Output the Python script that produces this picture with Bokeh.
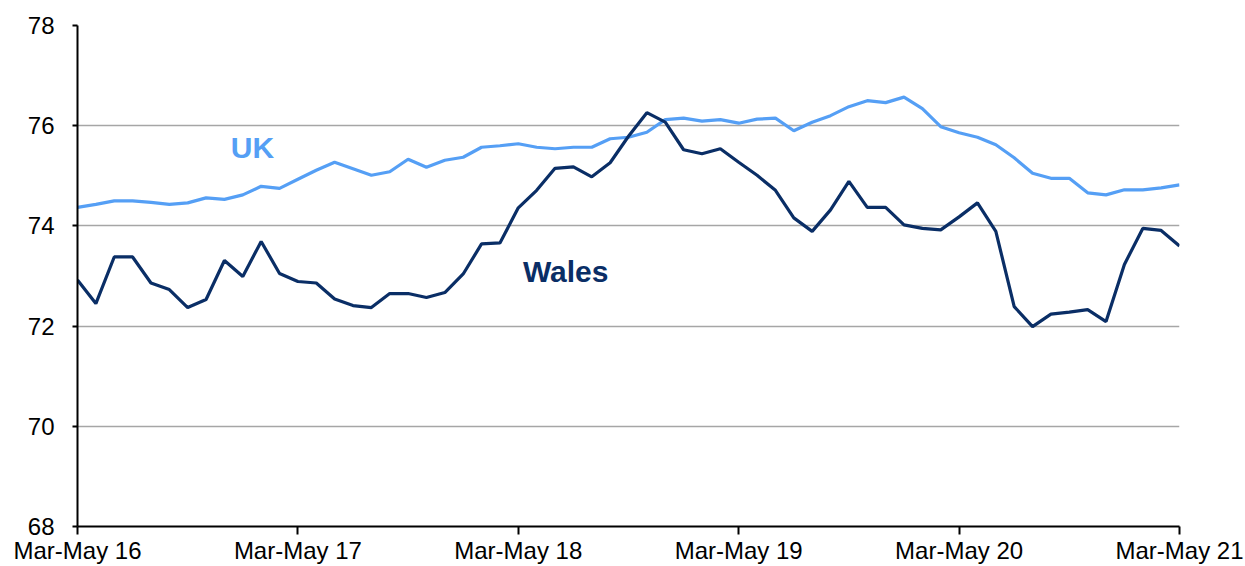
from bokeh.plotting import figure
from bokeh.models import FixedTicker, Range1d
from bokeh.core.properties import value
from bokeh.embed import file_html
from bokeh.resources import INLINE

# ---- data ----
tick_labels = ["Mar-May 16", "Mar-May 17", "Mar-May 18", "Mar-May 19", "Mar-May 20", "Mar-May 21"]
uk = [74.37, 74.43, 74.50, 74.50, 74.47, 74.43, 74.46, 74.56, 74.53, 74.62,
      74.79, 74.75, 74.93, 75.11, 75.27, 75.14, 75.01, 75.08, 75.33, 75.17,
      75.31, 75.37, 75.57, 75.60, 75.64, 75.57, 75.54, 75.57, 75.57, 75.74,
      75.77, 75.87, 76.12, 76.15, 76.09, 76.12, 76.05, 76.13, 76.15, 75.90,
      76.07, 76.20, 76.38, 76.50, 76.46, 76.57, 76.34, 75.98, 75.86, 75.77,
      75.62, 75.36, 75.05, 74.95, 74.95, 74.66, 74.62, 74.72, 74.72, 74.76,
      74.82]
wales = [72.92, 72.45, 73.38, 73.38, 72.86, 72.73, 72.37, 72.53, 73.31, 72.99,
         73.69, 73.05, 72.89, 72.86, 72.54, 72.41, 72.37, 72.65, 72.65, 72.57,
         72.67, 73.04, 73.64, 73.66, 74.36, 74.71, 75.15, 75.18, 74.98, 75.26,
         75.79, 76.26, 76.07, 75.52, 75.44, 75.54, 75.27, 75.01, 74.71, 74.16,
         73.89, 74.32, 74.89, 74.37, 74.37, 74.02, 73.95, 73.92, 74.18, 74.46,
         73.89, 72.39, 71.99, 72.24, 72.28, 72.33, 72.09, 73.23, 73.95, 73.91,
         73.60]
series_names = ["UK", "Wales"]

UK_COLOR = "#559FF5"
WALES_COLOR = "#0A2E66"
FONT = "Liberation Sans"

months = list(range(len(uk)))
tick_pos = [12 * i for i in range(len(tick_labels))]

p = figure(width=1244, height=566, output_backend="svg", toolbar_location=None,
           x_range=Range1d(0, 60), y_range=Range1d(68, 78),
           min_border_left=77, min_border_right=65, min_border_top=25, min_border_bottom=10)
p.outline_line_color = None
p.background_fill_color = "white"

p.line(months, uk, line_color=UK_COLOR, line_width=3.2)
p.line(months, wales, line_color=WALES_COLOR, line_width=3.2)

p.text(x=[8.35], y=[75.57], text=[series_names[0]], text_color=UK_COLOR,
       text_font=value(FONT), text_font_style="bold", text_font_size="30px",
       text_baseline="alphabetic", text_align="left")
p.text(x=[24.25], y=[73.09], text=[series_names[1]], text_color=WALES_COLOR,
       text_font=value(FONT), text_font_style="bold", text_font_size="30px",
       text_baseline="alphabetic", text_align="left")

# axes
p.xaxis.ticker = FixedTicker(ticks=tick_pos)
p.xaxis.major_label_overrides = {t: l for t, l in zip(tick_pos, tick_labels)}
p.xaxis.minor_tick_line_color = None
p.xaxis.major_tick_out = 8
p.xaxis.major_tick_in = 0
p.xaxis.major_label_standoff = 2

p.yaxis.ticker = FixedTicker(ticks=[68, 70, 72, 74, 76, 78])
p.yaxis.minor_tick_line_color = None
p.yaxis.major_tick_out = 5
p.yaxis.major_tick_in = 0
p.yaxis.major_label_standoff = 18

for ax in (p.xaxis, p.yaxis):
    ax.axis_line_color = "black"
    ax.axis_line_width = 2
    ax.major_tick_line_color = "black"
    ax.major_tick_line_width = 2
    ax.major_label_text_font = FONT
    ax.major_label_text_font_size = "24px"
    ax.major_label_text_color = "black"

p.xgrid.grid_line_color = None
p.ygrid.ticker = FixedTicker(ticks=[70, 72, 74, 76, 78])
p.ygrid.grid_line_color = "#A6A6A6"
p.ygrid.grid_line_width = 1.5

open("out.html", "w").write(file_html(p, INLINE))
